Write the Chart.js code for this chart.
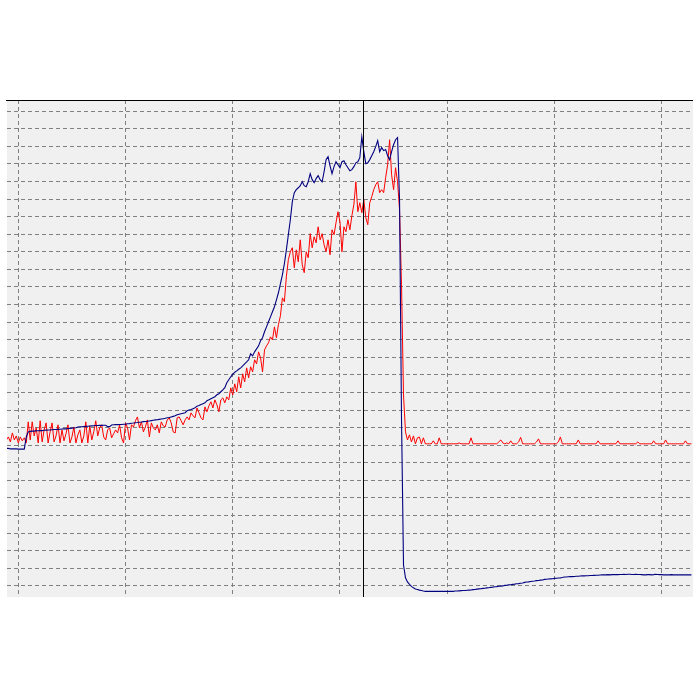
<!DOCTYPE html>
<html>
<head>
<meta charset="utf-8">
<script src="https://cdn.jsdelivr.net/npm/chart.js@4/dist/chart.umd.min.js"></script>
<style>
html,body{margin:0;padding:0;background:#ffffff;}
#wrap{width:700px;height:700px;}
</style>
</head>
<body>
<div id="wrap"><canvas id="c" width="700" height="700"></canvas></div>
<script>
// Red trace (sampled values, grid division = 10 units)
const redSignal = [
83.0,84.7,81.9,87.0,83.0,85.3,81.3,84.7,82.5,84.2,81.3,
93.3,83.0,93.3,85.3,89.9,81.3,93.9,81.9,88.7,92.7,
81.3,87.6,92.7,81.9,85.3,91.6,81.3,88.7,82.5,86.5,
91.6,81.3,84.7,90.4,81.3,85.9,88.7,81.3,85.3,93.3,
81.3,91.0,83.0,87.6,93.9,85.3,89.9,91.6,84.7,83.0,
88.7,89.9,84.2,86.5,88.7,87.0,91.6,84.2,81.3,92.7,
89.9,83.0,91.6,90.4,93.9,96.1,89.9,93.3,87.6,90.4,
94.4,84.7,92.7,89.9,88.7,91.6,87.0,93.3,91.0,90.4,
94.4,95.6,92.7,87.6,87.0,95.6,96.1,93.9,91.6,94.4,
96.1,94.4,98.4,96.7,95.6,101.2,98.4,95.6,94.4,101.8,
99.0,102.4,104.7,101.2,105.8,103.0,99.0,105.8,106.9,104.1,
107.5,105.8,112.6,108.6,114.9,110.4,118.9,112.6,120.6,116.0,
124.0,118.3,124.6,121.7,128.6,126.3,133.1,129.7,121.7,134.2,
136.5,138.2,141.6,139.9,147.3,141.1,148.5,153.6,163.8,161.6,
175.8,185.5,190.0,192.3,180.9,191.1,184.3,196.8,182.6,178.1,
190.0,186.6,200.3,192.3,198.5,195.1,204.2,196.8,200.3,194.0,
190.0,196.8,188.3,202.5,199.7,206.5,212.8,207.1,190.0,204.2,
201.4,208.2,202.5,210.5,216.8,229.8,212.8,217.9,212.2,219.6,
209.4,205.4,217.9,221.3,225.3,228.1,229.8,223.6,225.3,223.6,
232.1,239.5,253.7,233.8,225.3,237.8,229.8,213.9,171.2,108.6,
87.6,83.0,85.9,81.9,85.3,80.8,84.2,84.7,80.8,84.2,80.8,
80.8,80.8,80.8,82.5,80.8,80.8,84.2,80.8,80.8,80.8,
80.8,80.8,80.8,80.8,80.8,80.8,81.3,80.8,80.8,80.8,
80.8,80.8,84.2,80.8,80.8,80.8,80.8,80.8,80.8,80.8,
80.8,80.8,80.8,80.8,80.8,80.8,81.9,83.0,81.3,80.8,
81.3,80.8,82.5,80.8,80.8,80.8,81.9,84.5,80.8,80.8,
80.8,80.8,80.8,80.8,80.8,81.9,83.6,80.8,80.8,80.8,
80.8,80.8,80.8,80.8,80.8,80.8,81.9,84.7,80.8,80.8,
80.8,80.8,80.8,80.8,80.8,80.8,83.0,80.8,80.8,80.8,
80.8,80.8,80.8,80.8,80.8,80.8,82.5,80.8,80.8,80.8,
80.8,80.8,80.8,80.8,80.8,80.8,82.5,80.8,80.8,80.8,
80.8,80.8,80.8,80.8,80.8,80.8,81.9,80.8,80.8,80.8,
80.8,80.8,80.8,80.8,82.5,80.8,80.8,80.8,80.8,80.8,
83.0,80.8,80.8,80.8,80.8,80.8,80.8,80.8,80.8,80.8,
82.5,80.8,80.8,80.8
];

// Blue trace
const blueSignal = [
78.2,78.2,77.9,77.9,77.9,77.9,77.8,77.8,77.8,77.8,
84.7,87.6,
87.9,88.0,88.0,88.2,88.2,88.3,88.3,88.5,88.6,
88.7,88.7,88.8,88.9,88.9,89.0,89.1,89.2,89.3,89.3,89.5,89.6,89.7,89.8,89.9,
90.4,90.5,90.5,90.6,90.7,90.8,90.9,91.0,91.1,91.2,91.2,91.3,
91.3,91.4,91.4,90.6,90.6,91.5,91.6,91.7,91.7,91.8,91.8,91.9,91.9,
92.2,92.3,92.5,92.6,92.8,92.9,93.1,93.2,93.4,93.5,
93.6,93.8,94.0,94.2,94.4,94.5,94.7,94.9,95.1,95.3,
95.6,95.8,96.1,96.4,96.7,97.3,97.6,97.9,98.2,98.5,
99.6,100.0,100.3,100.8,101.3,102.2,102.6,103.1,103.6,104.1,
105.3,105.8,106.4,107.0,107.6,108.7,109.3,110.4,111.5,112.7,
115.5,117.2,118.9,120.3,121.5,122.3,123.2,124.0,125.1,126.3,
127.4,128.6,132.0,130.8,133.1,134.8,136.5,139.4,141.1,144.5,
147.3,150.2,153.0,155.9,158.7,162.7,166.7,171.8,176.9,183.2,
191.1,199.7,208.2,218.5,223.6,225.3,226.4,227.6,229.8,227.6,
227.0,229.8,234.4,231.0,229.3,231.6,233.3,231.0,229.8,235.5,
242.4,244.1,238.9,234.4,238.4,241.2,239.5,237.8,241.2,241.8,
239.5,237.8,236.1,236.7,238.4,240.6,241.2,243.5,255.4,246.9,
240.1,240.6,242.4,244.6,246.9,249.8,253.2,246.9,249.2,247.5,
248.1,244.6,242.4,246.9,250.9,253.7,254.9,219.6,94.4,11.9,
4.6,2.3,0.9,-0.3,-1.1,-1.7,-2.0,-2.4,-2.6,-2.9,
-3.1,-3.1,-3.1,-3.1,-3.1,-3.1,-3.1,-3.1,-3.1,-3.1,-3.1,-3.1,-3.1,-3.1,-3.1,
-2.9,-2.9,-2.8,-2.7,-2.6,-2.6,-2.5,
-2.4,-2.3,-2.1,-2.0,-1.8,-1.7,-1.6,-1.4,
-1.3,-1.1,-1.0,-0.8,-0.7,-0.5,-0.4,-0.2,-0.1,0.0,
0.3,0.4,0.6,0.7,0.9,1.0,1.2,1.3,1.5,1.7,
2.0,2.2,2.3,2.5,2.7,2.8,3.0,3.1,3.3,3.4,
3.7,3.8,3.9,4.0,4.1,4.3,4.4,4.5,4.6,4.8,
5.1,5.1,5.2,5.3,5.3,5.4,5.5,5.5,5.6,5.7,
5.7,5.8,5.8,5.9,5.9,6.0,6.1,6.1,6.2,6.3,
6.3,6.3,6.4,6.3,6.4,6.4,6.5,6.4,6.5,6.5,
6.6,6.5,6.6,6.6,6.5,6.5,6.6,6.5,6.5,6.4,
6.3,6.3,6.4,6.4,6.3,6.4,6.6,6.5,6.4,6.4,
6.3,6.3,6.3,6.3,6.4,6.3,6.3,6.3,6.3,6.3,
6.3,6.3,6.3,6.3,6.3
];

// Grid ticks (sample index for x, signal units for y)
const xTicks = [6, 60, 114, 168, 222, 276, 330];
const yTicks = [0,10,20,30,40,50,60,70,80,90,100,110,120,130,140,150,160,170,180,190,200,210,220,230,240,250,260,270];
const xRange = [0.3, 345.8];
const yRange = [-6.3, 276.3];
const cursorAt = 179.7;

const toPts = arr => arr.map((v, i) => ({x: i, y: v}));

const framePlugin = {
  id: 'frame',
  beforeDraw(chart) {
    const {ctx, chartArea: a} = chart;
    ctx.save();
    ctx.fillStyle = '#f0f0f0';
    ctx.fillRect(a.left, a.top, a.right - a.left, a.bottom - a.top);
    ctx.restore();
  },
  afterDraw(chart) {
    const {ctx, chartArea: a, scales} = chart;
    ctx.save();
    ctx.strokeStyle = '#000000';
    ctx.lineWidth = 1;
    ctx.beginPath();
    ctx.moveTo(a.left - 1, a.top + 0.5);
    ctx.lineTo(a.right, a.top + 0.5);
    ctx.stroke();
    const cx = Math.round(scales.x.getPixelForValue(cursorAt)) + 0.5;
    ctx.beginPath();
    ctx.moveTo(cx, a.top);
    ctx.lineTo(cx, a.bottom);
    ctx.stroke();
    ctx.restore();
  }
};

new Chart(document.getElementById('c'), {
  type: 'line',
  data: {
    datasets: [
      {data: toPts(blueSignal), borderColor: '#000080', borderWidth: 1.1, pointRadius: 0, tension: 0, fill: false},
      {data: toPts(redSignal), borderColor: '#ff0000', borderWidth: 1, pointRadius: 0, tension: 0, fill: false}
    ]
  },
  options: {
    responsive: false,
    animation: false,
    events: [],
    layout: {padding: {left: 7, right: 7, top: 100, bottom: 103}},
    plugins: {legend: {display: false}, tooltip: {enabled: false}},
    scales: {
      x: {
        type: 'linear', min: xRange[0], max: xRange[1],
        afterBuildTicks: s => { s.ticks = xTicks.map(v => ({value: v})); },
        ticks: {display: false},
        border: {display: false, dash: [4,3]},
        grid: {color: '#808080', lineWidth: 1, drawTicks: false},
      },
      y: {
        type: 'linear', min: yRange[0], max: yRange[1],
        afterBuildTicks: s => { s.ticks = yTicks.map(v => ({value: v})); },
        ticks: {display: false},
        border: {display: false, dash: [4,3]},
        grid: {color: '#808080', lineWidth: 1, drawTicks: false},
      }
    }
  },
  plugins: [framePlugin]
});
</script>
</body>
</html>
